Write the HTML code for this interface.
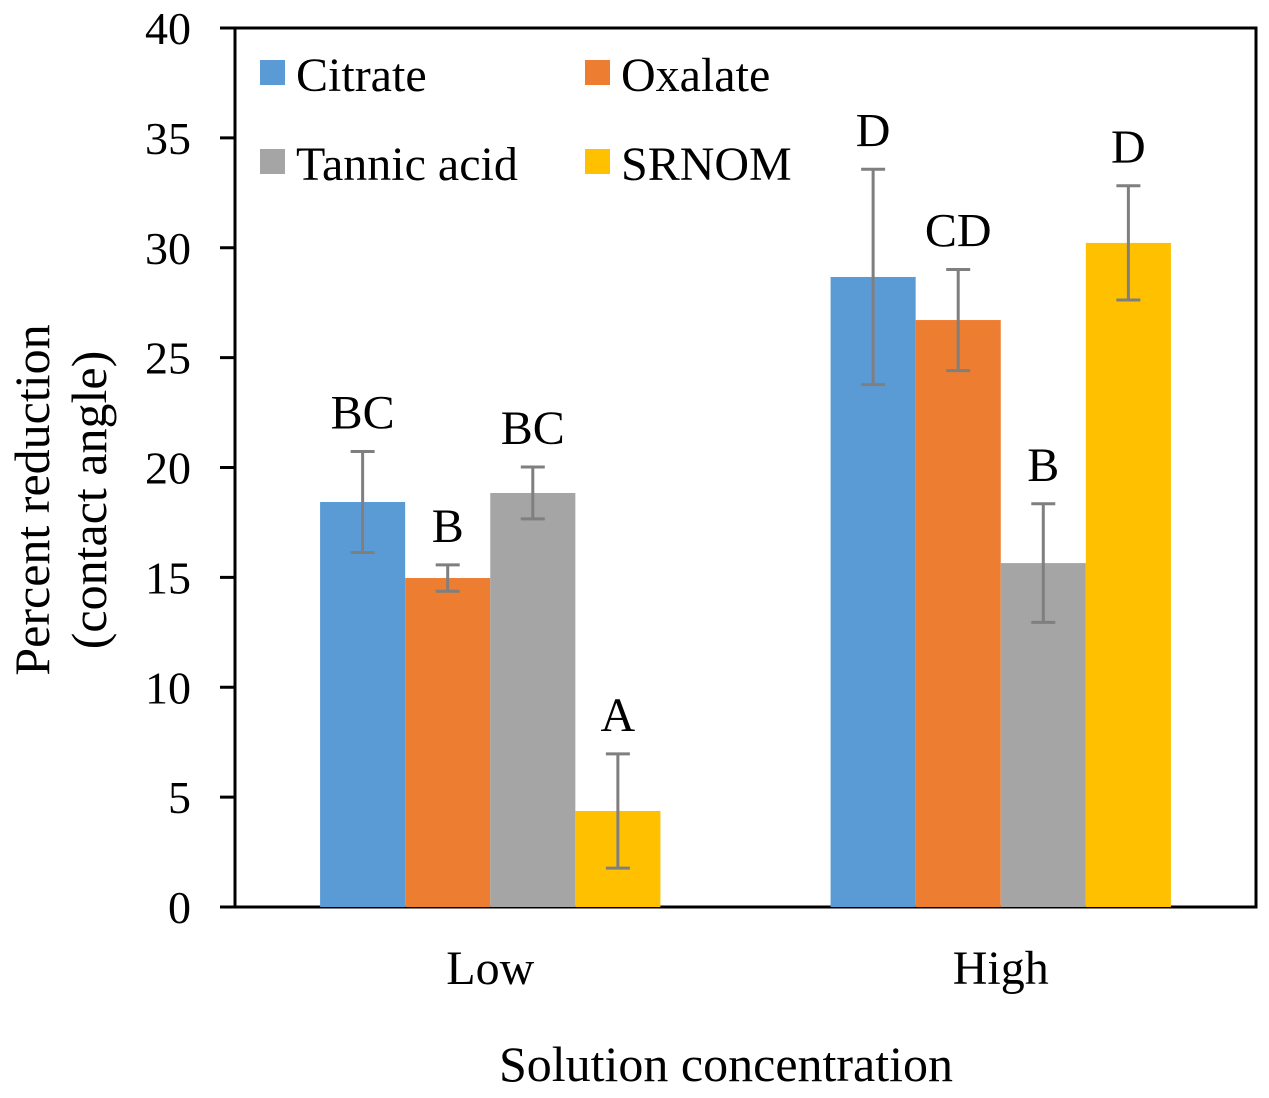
<!DOCTYPE html>
<html><head><meta charset="utf-8"><style>
html,body{margin:0;padding:0;background:#fff;}
svg text{font-family:"Liberation Serif",serif;fill:#000;}
</style></head><body>
<svg id="chart" width="1269" height="1093" viewBox="0 0 1269 1093" xmlns="http://www.w3.org/2000/svg">
<rect x="235" y="28" width="1021" height="879" fill="none" stroke="#000" stroke-width="3"/>
<g id="bars"></g>
<g id="axis"></g>
<text transform="translate(49,500) rotate(-90)" text-anchor="middle" font-size="50">Percent reduction</text>
<text transform="translate(106,500) rotate(-90)" text-anchor="middle" font-size="50">(contact angle)</text>
<text x="726" y="1081" text-anchor="middle" font-size="50">Solution concentration</text>
<g>
<rect x="260" y="60" width="25" height="25" fill="#5b9bd5"/>
<text x="296" y="91" font-size="48">Citrate</text>
<rect x="585" y="60" width="25" height="25" fill="#ed7d31"/>
<text x="621" y="91" font-size="48">Oxalate</text>
<rect x="260" y="149" width="25" height="25" fill="#a5a5a5"/>
<text x="296" y="180" font-size="48">Tannic acid</text>
<rect x="585" y="149" width="25" height="25" fill="#ffc000"/>
<text x="621" y="180" font-size="48">SRNOM</text>
</g>
</svg>
<script>
const categories = ["Low", "High"];
const seriesNames = ["Citrate", "Oxalate", "Tannic acid", "SRNOM"];
const citrate = [18.43, 28.67];
const oxalate = [14.97, 26.71];
const tannic = [18.84, 15.65];
const srnom = [4.37, 30.22];
const citrateErr = [2.3, 4.9];
const oxalateErr = [0.6, 2.3];
const tannicErr = [1.18, 2.7];
const srnomErr = [2.6, 2.6];
const letters = [["BC", "D"], ["B", "CD"], ["BC", "B"], ["A", "D"]];
const yTicks = [0, 5, 10, 15, 20, 25, 30, 35, 40];

const colors = ["#5b9bd5", "#ed7d31", "#a5a5a5", "#ffc000"];
const values = [citrate, oxalate, tannic, srnom];
const errs = [citrateErr, oxalateErr, tannicErr, srnomErr];
const X0 = 235, X1 = 1256, Y0 = 907, Y1 = 28;
const y = v => Y0 - (v / 40) * (Y0 - Y1);
const catW = (X1 - X0) / categories.length;
const barW = catW / 6;
const ns = "http://www.w3.org/2000/svg";
function mk(tag, attrs, parent) {
  const e = document.createElementNS(ns, tag);
  for (const k in attrs) e.setAttribute(k, attrs[k]);
  parent.appendChild(e);
  return e;
}
const gb = document.getElementById("bars");
const ga = document.getElementById("axis");
categories.forEach((c, ci) => {
  const cx = X0 + catW * (ci + 0.5);
  values.forEach((s, si) => {
    const bx = cx - 2 * barW + si * barW;
    const r = mk("rect", {x: bx, y: y(s[ci]), width: barW, height: Y0 - y(s[ci]), fill: colors[si]}, gb);
    
    
    const mx = bx + barW / 2;
    const hi = y(s[ci] + errs[si][ci]), lo = y(s[ci] - errs[si][ci]);
    const eb = mk("path", {d: `M${mx},${hi}V${lo}M${mx-12},${hi}H${mx+12}M${mx-12},${lo}H${mx+12}`, stroke: "#7f7f7f", "stroke-width": 3, fill: "none"}, gb);
    
    
    const t = mk("text", {x: mx, y: hi - 23, "text-anchor": "middle", "font-size": 48}, gb);
    t.textContent = letters[si][ci];
    
    
  });
  const lt = mk("text", {x: cx, y: 984, "text-anchor": "middle", "font-size": 48}, ga);
  lt.textContent = c;
  
  
});
yTicks.forEach(v => {
  const tk = mk("line", {x1: 220, x2: 235, y1: y(v), y2: y(v), stroke: "#000", "stroke-width": 3}, ga);
  
  
  const t = mk("text", {x: 191, y: y(v) + 16, "text-anchor": "end", "font-size": 46}, ga);
  t.textContent = v;
  
  
});
</script>
</body></html>
